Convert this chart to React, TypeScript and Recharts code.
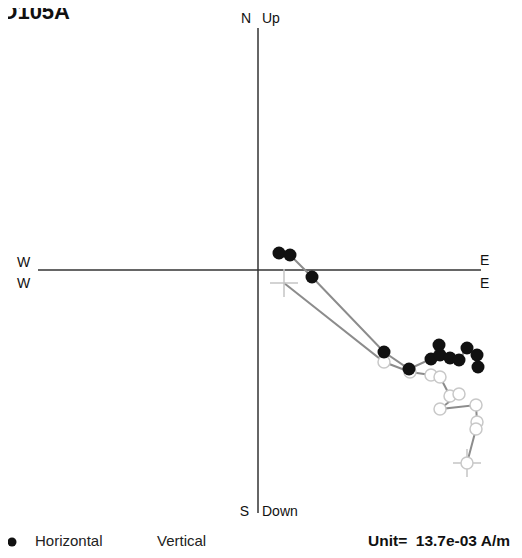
import React from 'react';
import { ScatterChart, Scatter, XAxis, YAxis, ReferenceLine } from 'recharts';

// Zijderveld projection of specimen D105A (units of 13.7e-03 A/m, scaled)
const horizontalEast = [2.1, 3.2, 5.4, 12.6, 15.1, 17.3, 18.1, 18.2, 19.2, 20.1, 20.9, 21.9, 22.0];
const horizontalNorth = [1.7, 1.5, -0.7, -8.2, -9.9, -8.9, -7.5, -8.5, -8.8, -9.0, -7.8, -8.5, -9.7];

const verticalEast = [2.6, 12.6, 15.2, 17.3, 18.2, 19.2, 20.1, 18.2, 21.8, 21.9, 21.8, 20.9];
const verticalUp = [-1.3, -9.2, -10.2, -10.5, -10.7, -12.6, -12.4, -13.9, -13.5, -15.2, -15.9, -19.3];

const xDomain: [number, number] = [-22, 22.3];
const yDomain: [number, number] = [-24.3, 24.2];

const specimen = 'D105A';
const unitLabel = 'Unit=\u00A0\u00A013.7e-03 A/m';

const horizontalData = horizontalEast.map((x, i) => ({ x, y: horizontalNorth[i] }));
const verticalData = verticalEast.map((x, i) => ({
  x,
  y: verticalUp[i],
  cross: i === 0 || i === verticalEast.length - 1,
  first: i === 0,
}));

const FilledDot = (p: any) => <circle cx={p.cx} cy={p.cy} r={6.5} fill="#111" />;

const OpenDot = (p: any) => {
  const { cx, cy, payload } = p;
  return (
    <g>
      {payload && payload.cross ? (
        <g stroke="#c4c4c4" strokeWidth={1.5}>
          <line x1={cx - 14} y1={cy} x2={cx + 14} y2={cy} />
          <line x1={cx} y1={cy - 14} x2={cx} y2={cy + 14} />
        </g>
      ) : null}
      {payload && payload.first ? null : (
        <circle cx={cx} cy={cy} r={6} fill="#fff" stroke="#c8c8c8" strokeWidth={1.5} />
      )}
    </g>
  );
};

const font = '"Liberation Sans", Arial, sans-serif';

export default function App() {
  return (
    <div style={{ position: 'relative', width: 514, height: 542 }}>
      <ScatterChart width={514} height={542} margin={{ top: 20, right: 41, bottom: 37, left: 30 }}>
        <XAxis type="number" dataKey="x" domain={xDomain} hide />
        <YAxis type="number" dataKey="y" domain={yDomain} hide />
        <ReferenceLine x={0} stroke="#333" strokeWidth={1.5} />
        <ReferenceLine y={0} stroke="#333" strokeWidth={1.5} />
        <Scatter
          data={verticalData}
          line={{ stroke: '#8c8c8c', strokeWidth: 2 }}
          shape={OpenDot}
          isAnimationActive={false}
        />
        <Scatter
          data={horizontalData}
          line={{ stroke: '#8c8c8c', strokeWidth: 2 }}
          shape={FilledDot}
          isAnimationActive={false}
        />
      </ScatterChart>
      <svg
        width={522}
        height={558}
        style={{ position: 'absolute', left: -8, top: -8, pointerEvents: 'none', overflow: 'visible' }}
        fontFamily={font}
      >
        <text x={70} y={19} fontSize={22} fontWeight="bold" textAnchor="end" fill="#111">{specimen}</text>
        <text x={251} y={23} fontSize={14} textAnchor="end" fill="#111">N</text>
        <text x={262} y={23} fontSize={14} fill="#111">Up</text>
        <text x={249} y={516} fontSize={14} textAnchor="end" fill="#111">S</text>
        <text x={262} y={516} fontSize={14} fill="#111">Down</text>
        <text x={17} y={267} fontSize={14} fill="#111">W</text>
        <text x={17} y={288} fontSize={14} fill="#111">W</text>
        <text x={480} y={265} fontSize={14} fill="#111">E</text>
        <text x={480} y={288} fontSize={14} fill="#111">E</text>
        <circle cx={12} cy={542} r={4.5} fill="#111" />
        <text x={35} y={546} fontSize={15} fill="#222">Horizontal</text>
        <text x={157} y={546} fontSize={15} fill="#222">Vertical</text>
        <text x={368} y={546} fontSize={15.5} fontWeight="bold" fill="#111">{unitLabel}</text>
      </svg>
    </div>
  );
}
